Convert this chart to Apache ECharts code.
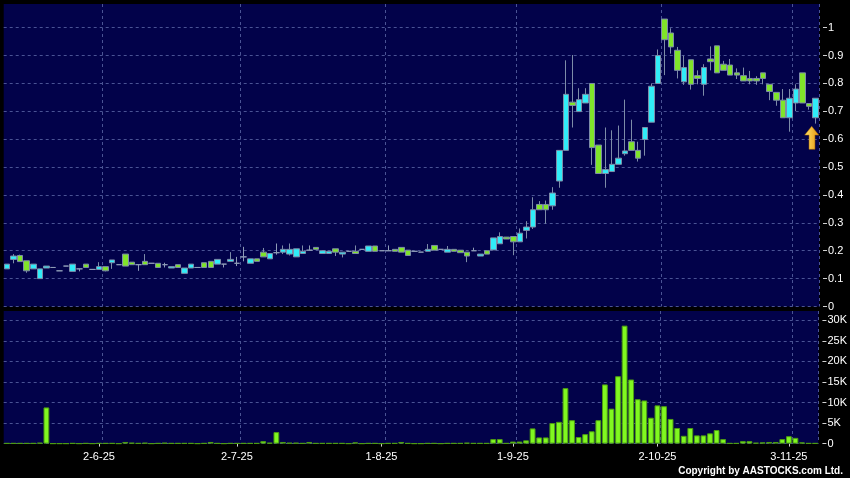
<!DOCTYPE html>
<html><head><meta charset="utf-8">
<script src="https://cdn.jsdelivr.net/npm/echarts@6/dist/echarts.min.js"></script>
<style>html,body{margin:0;padding:0;background:#000;}#c{width:850px;height:478px;}</style>
</head><body><div id="c"></div>
<script>
// ---- data ----
const dates = [
'2025-05-13','2025-05-14','2025-05-15','2025-05-16','2025-05-19','2025-05-20','2025-05-21','2025-05-22','2025-05-23','2025-05-26','2025-05-27','2025-05-28','2025-05-29','2025-05-30',
'2025-06-02','2025-06-03','2025-06-04','2025-06-05','2025-06-06','2025-06-09','2025-06-10','2025-06-11','2025-06-12','2025-06-13','2025-06-16','2025-06-17','2025-06-18','2025-06-19','2025-06-20','2025-06-23','2025-06-24','2025-06-25','2025-06-26','2025-06-27','2025-06-30',
'2025-07-02','2025-07-03','2025-07-04','2025-07-07','2025-07-08','2025-07-09','2025-07-10','2025-07-11','2025-07-14','2025-07-15','2025-07-16','2025-07-17','2025-07-18','2025-07-21','2025-07-22','2025-07-23','2025-07-24','2025-07-25','2025-07-28','2025-07-29','2025-07-30','2025-07-31',
'2025-08-01','2025-08-04','2025-08-06','2025-08-07','2025-08-08','2025-08-11','2025-08-12','2025-08-13','2025-08-14','2025-08-15','2025-08-18','2025-08-19','2025-08-20','2025-08-21','2025-08-22','2025-08-25','2025-08-26','2025-08-27','2025-08-28','2025-08-29',
'2025-09-01','2025-09-02','2025-09-03','2025-09-04','2025-09-05','2025-09-08','2025-09-09','2025-09-10','2025-09-11','2025-09-12','2025-09-15','2025-09-16','2025-09-17','2025-09-18','2025-09-19','2025-09-22','2025-09-23','2025-09-24','2025-09-25','2025-09-26','2025-09-29','2025-09-30',
'2025-10-02','2025-10-03','2025-10-06','2025-10-08','2025-10-09','2025-10-10','2025-10-13','2025-10-14','2025-10-15','2025-10-16','2025-10-17','2025-10-20','2025-10-21','2025-10-22','2025-10-23','2025-10-24','2025-10-27','2025-10-28','2025-10-30','2025-10-31',
'2025-11-03','2025-11-04','2025-11-05','2025-11-06','2025-11-07'
];
// [open, close, low, high]
const ohlc = [
[.135,.152,.135,.152],[.169,.181,.155,.188],[.183,.161,.161,.186],[.164,.128,.121,.164],[.135,.152,.135,.152],
[.100,.135,.100,.135],[.138,.145,.138,.145],[.140,.140,.140,.140],[.128,.128,.128,.128],[.145,.145,.145,.145],
[.126,.152,.126,.152],[.135,.135,.126,.135],[.152,.140,.140,.152],[.133,.133,.133,.133],[.133,.143,.133,.159],
[.143,.128,.126,.143],[.157,.167,.135,.167],[.150,.150,.150,.150],[.188,.145,.145,.188],[.159,.150,.150,.159],
[.150,.150,.128,.150],[.162,.150,.150,.188],[.155,.155,.155,.155],[.155,.140,.140,.155],[.150,.150,.140,.157],
[.138,.143,.138,.143],[.150,.140,.140,.150],[.119,.138,.119,.138],[.138,.152,.138,.152],[.140,.140,.140,.140],
[.157,.140,.140,.157],[.162,.140,.140,.162],[.152,.169,.152,.169],[.152,.152,.140,.152],[.162,.169,.162,.195],
[.155,.155,.145,.178],[.178,.178,.162,.214],[.155,.171,.155,.171],[.171,.162,.162,.171],[.195,.178,.178,.210],
[.171,.190,.171,.190],[.193,.193,.186,.226],[.195,.205,.188,.219],[.188,.205,.183,.226],[.178,.207,.178,.207],
[.190,.198,.190,.219],[.202,.202,.202,.219],[.212,.205,.205,.212],[.190,.200,.190,.200],[.190,.198,.190,.198],
[.207,.195,.181,.207],[.188,.195,.176,.195],[.198,.198,.198,.198],[.198,.190,.190,.219],[.205,.205,.205,.205],
[.198,.217,.198,.217],[.217,.198,.198,.217],[.200,.200,.200,.200],[.200,.200,.200,.219],[.205,.198,.198,.205],
[.212,.195,.195,.212],[.202,.183,.183,.202],[.198,.198,.198,.198],[.195,.195,.195,.195],[.198,.205,.198,.224],
[.219,.202,.202,.219],[.205,.205,.205,.205],[.195,.205,.195,.217],[.205,.198,.198,.205],[.202,.193,.193,.202],
[.195,.181,.159,.195],[.200,.200,.200,.211],[.181,.188,.181,.188],[.200,.188,.188,.200],[.203,.246,.203,.246],
[.225,.251,.225,.266],[.249,.242,.242,.249],[.251,.232,.184,.251],[.232,.263,.232,.280],[.273,.285,.244,.306],
[.285,.347,.278,.392],[.366,.347,.347,.378],[.366,.347,.297,.380],[.361,.407,.347,.428],[.450,.560,.426,.560],
[.560,.761,.560,.883],[.733,.721,.642,.902],[.699,.742,.699,.783],[.730,.761,.730,.783],[.800,.570,.508,.800],
[.579,.477,.477,.579],[.477,.491,.426,.642],[.484,.510,.484,.632],[.510,.532,.510,.649],[.548,.558,.541,.742],
[.591,.560,.560,.670],[.560,.532,.520,.591],[.599,.642,.541,.642],[.661,.790,.661,.800],[.800,.900,.800,.922],
[1.031,.957,.830,1.031],[.981,.931,.907,.998],[.919,.847,.818,.931],[.806,.857,.795,.900],[.885,.797,.778,.885],
[.828,.818,.797,.847],[.797,.857,.756,.869],[.888,.878,.847,.933],[.935,.838,.838,.935],[.869,.847,.847,.881],
[.866,.830,.830,.888],[.838,.830,.816,.854],[.828,.809,.809,.857],[.818,.809,.797,.845],[.818,.809,.795,.826],
[.838,.818,.797,.838],[.797,.771,.740,.797],[.768,.740,.720,.768],[.740,.677,.677,.780],[.677,.747,.627,.780],
[.730,.780,.701,.797],[.838,.730,.730,.838],[.728,.718,.706,.728],[.677,.747,.656,.747]
];
const volumes = [
100,100,100,100,100,200,8800,0,0,0,
100,0,100,0,100,100,100,0,400,200,
100,200,0,100,200,100,100,100,100,0,
100,400,100,0,100,100,100,100,100,600,
200,2800,400,200,200,100,400,100,100,100,
100,100,0,300,0,100,100,0,100,100,
400,100,0,0,100,100,0,100,100,100,
200,100,100,100,1100,1100,100,500,500,800,
3700,1500,1500,5000,5300,13500,5700,1600,2300,3000,
5700,14400,8500,16400,28700,15600,10800,10500,6300,9300,
9100,6000,3800,1900,3800,2000,2000,2500,3300,1100,
100,100,600,600,200,300,400,400,1100,1800,
1400,300,100,100
];
const priceTicks = [0,0.1,0.2,0.3,0.4,0.5,0.6,0.7,0.8,0.9,1];
const volumeTicks = [0,5000,10000,15000,20000,25000,30000];
const labelDates = ['2025-06-02','2025-07-02','2025-08-01','2025-09-01','2025-10-02','2025-11-03'];
const arrowMark = {date:'2025-11-07', value:0.605};

// ---- chart ----
const labelIdx = labelDates.map(d => dates.indexOf(d));
const fmtDate = d => { const p = d.split('-'); return (+p[2]) + '-' + (+p[1]) + '-' + p[0].slice(2); };
const gridColor = '#4a5394';
const gridLine = {show:true, lineStyle:{color:gridColor, type:[3,3], width:1}};
const vSplit = {show:true, interval:(i)=>labelIdx.includes(i-1), lineStyle:{color:gridColor, type:[3,3], width:1}};
const navy = '#02024a';
const chart = echarts.init(document.getElementById('c'), null, {renderer:'canvas'});
chart.setOption({
  animation:false,
  backgroundColor:'#000000',
  grid:[
    {left:3.7, right:31, top:4, height:302.5, show:true, backgroundColor:navy, borderWidth:0},
    {left:3.7, right:31, top:311, height:132.6, show:true, backgroundColor:navy, borderWidth:0}
  ],
  xAxis:[
    {type:'category', gridIndex:0, data:dates, boundaryGap:true,
     axisLine:{show:false}, axisTick:{show:false}, axisLabel:{show:false}, splitLine:vSplit},
    {type:'category', gridIndex:1, data:dates, boundaryGap:true, offset:3,
     axisLine:{show:false},
     axisTick:{show:true, alignWithLabel:true, length:3, interval:(i)=>labelIdx.includes(i), lineStyle:{color:'#d0d0d0'}},
     axisLabel:{show:true, interval:(i)=>labelIdx.includes(i), formatter:fmtDate, color:'#ffffff', fontSize:11, fontFamily:'Liberation Sans', margin:5},
     splitLine:vSplit}
  ],
  yAxis:[
    {type:'value', gridIndex:0, position:'right', min:0, max:1.085, offset:4,
     axisLine:{show:false},
     axisTick:{show:true, length:4, customValues:priceTicks, lineStyle:{color:'#d0d0d0'}},
     axisLabel:{customValues:priceTicks, color:'#ffffff', fontSize:11, fontFamily:'Liberation Sans', margin:5, formatter:v=>String(v)},
     splitLine:gridLine},
    {type:'value', gridIndex:1, position:'right', min:0, max:32260, offset:4,
     axisLine:{show:false},
     axisTick:{show:true, length:4, customValues:volumeTicks, lineStyle:{color:'#d0d0d0'}},
     axisLabel:{customValues:volumeTicks, color:'#ffffff', fontSize:11, fontFamily:'Liberation Sans', margin:5, formatter:v=> v===0 ? '0' : (v/1000)+'K'},
     splitLine:gridLine}
  ],
  series:[
    {type:'candlestick', xAxisIndex:0, yAxisIndex:0, data:ohlc.map(r=>[r[0],r[1],r[2],r[3]]), barWidth:6, barMinWidth:6, barMaxWidth:6,
     itemStyle:{color:'#30ecf8', color0:'#80e42a', borderColor:'#7d8ca8', borderColor0:'#7d8ca8', borderColorDoji:'#8e9cb6', borderWidth:1},
     markPoint:{silent:true, label:{show:false}, symbol:'path://M6,0 L12.5,8 L9,8 L9,21 L3.5,21 L3.5,8 L-0.5,8 Z', symbolSize:[14,23], symbolOffset:[-4,0],
       itemStyle:{color:{type:'linear',x:0,y:0,x2:1,y2:0,colorStops:[{offset:0,color:'#ffe36a'},{offset:1,color:'#e7950e'}]}, borderColor:'#b06a00', borderWidth:0.5},
       data:[{coord:[arrowMark.date, arrowMark.value]}]}
    },
    {type:'bar', xAxisIndex:1, yAxisIndex:1, data:volumes, barWidth:5.8,
     itemStyle:{color:'#80f820', borderColor:'#4d9c12', borderWidth:1}}
  ],
  graphic:[
    {type:'text', right:7, top:466, style:{text:'Copyright by AASTOCKS.com Ltd.', fill:'#ffffff', font:'bold 10px "Liberation Sans"'}}
  ]
});
</script></body></html>
